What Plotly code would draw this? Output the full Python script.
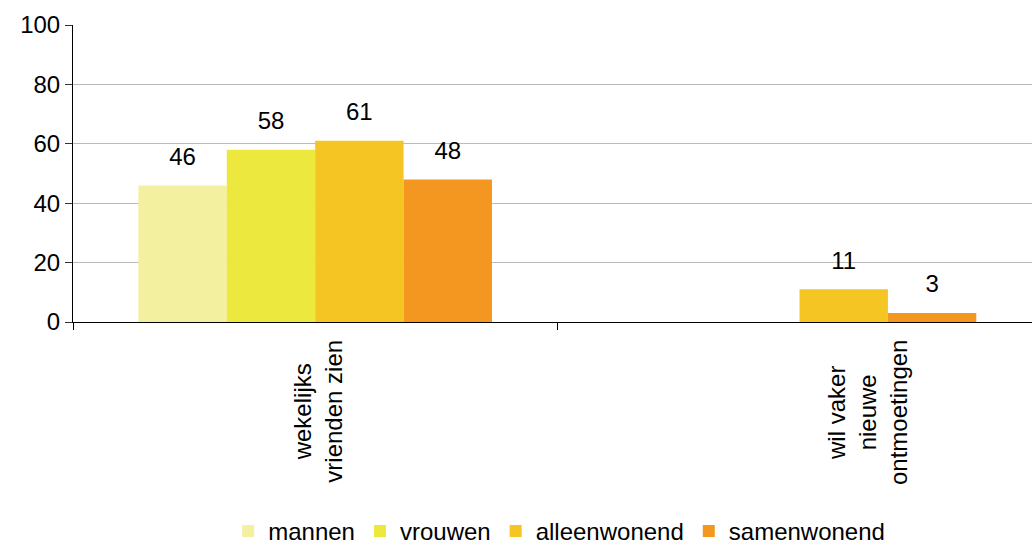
import plotly.graph_objects as go

categories = ["wekelijks vrienden zien", "wil vaker nieuwe ontmoetingen"]
category_labels = ["wekelijks<br>vrienden zien", "wil vaker<br>nieuwe<br>ontmoetingen"]
label_xshift = [2, 68]
series_names = ["mannen", "vrouwen", "alleenwonend", "samenwonend"]
mannen = [46, None]
vrouwen = [58, None]
alleenwonend = [61, 11]
samenwonend = [48, 3]
colors = ["#F3F09F", "#EDE83E", "#F5C523", "#F39720"]

values = [mannen, vrouwen, alleenwonend, samenwonend]
FONT = "Liberation Sans, Arial, sans-serif"
FS = 24

fig = go.Figure()
for i, (name, vals, col) in enumerate(zip(series_names, values, colors)):
    fig.add_trace(go.Bar(
        name=name, x=categories, y=vals, offsetgroup=str(i),
        marker=dict(color=col, line=dict(width=0)),
        hoverinfo="skip",
    ))
for i, (name, vals) in enumerate(zip(series_names, values)):
    fig.add_trace(go.Scatter(
        x=categories, y=vals, offsetgroup=str(i), mode="markers+text",
        text=[("" if v is None else str(v)) for v in vals],
        textposition="top center", cliponaxis=False, showlegend=False,
        marker=dict(size=22, opacity=0, color="white"),
        textfont=dict(size=FS, color="#000000", family=FONT), hoverinfo="skip",
    ))

for cat, lab, xs in zip(categories, category_labels, label_xshift):
    fig.add_annotation(
        x=cat, xref="x", y=0, yref="paper", yshift=-16, xshift=xs, yanchor="top", xanchor="center",
        text=lab, textangle=-90, showarrow=False, align="center",
        font=dict(size=FS, family=FONT, color="#000000"),
    )

fig.update_layout(
    width=1032, height=545,
    margin=dict(l=73, r=0, t=25, b=223, autoexpand=False),
    paper_bgcolor="white", plot_bgcolor="white",
    barmode="group", bargap=0.27, bargroupgap=0,
    scattermode="group", scattergap=0.27,
    font=dict(family=FONT, size=FS, color="#000000"),
    showlegend=True,
    legend=dict(orientation="h", x=0.507, xanchor="center", y=-0.705, yanchor="middle",
                font=dict(size=FS, family=FONT), itemwidth=30, traceorder="normal"),
)
fig.update_xaxes(
    type="category", range=[-0.5, 1.48], showline=True, linecolor="#000000", linewidth=1,
    ticks="outside", tickson="boundaries", ticklen=7, tickcolor="#000000",
    showgrid=False, showticklabels=False, automargin=False,
)
fig.update_yaxes(
    range=[0, 100], dtick=20, showline=True, linecolor="#000000", linewidth=1,
    ticks="outside", ticklen=7, tickcolor="#333333", showgrid=True, gridcolor="#BBBBBB",
    gridwidth=1, zeroline=False, tickfont=dict(size=FS, family=FONT), automargin=False,
)

fig.write_html("out.html", config={"displayModeBar": False},
               post_script="document.body.style.margin='0';")
